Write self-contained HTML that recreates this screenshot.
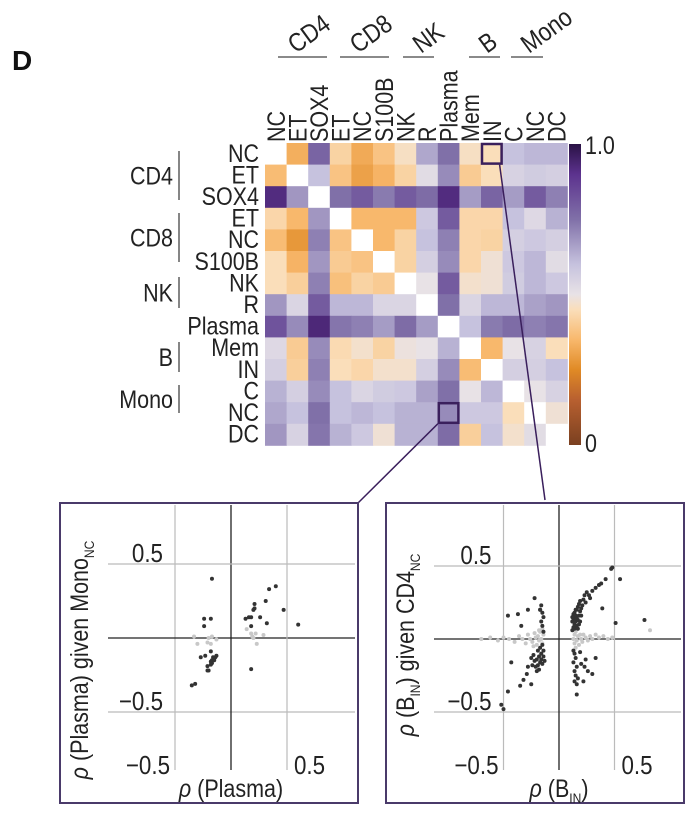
<!DOCTYPE html>
<html><head><meta charset="utf-8"><style>
body{margin:0;background:#fff;}
svg{display:block;font-family:"Liberation Sans",Arial,sans-serif;}
</style></head><body>
<svg id="fig" width="696" height="819" viewBox="0 0 696 819" xmlns="http://www.w3.org/2000/svg">
<text x="12" y="70" font-size="28" font-weight="bold" fill="#111">D</text>
<g id="heat"></g>
<g id="left"></g>
<g id="right"></g>
</svg>
<script>
const rowLabels=["NC","ET","SOX4","ET","NC","S100B","NK","R","Plasma","Mem","IN","C","NC","DC"];
const groups=[["CD4",0,2],["CD8",3,5],["NK",6,7],["B",9,10],["Mono",11,13]];
const heatValues=[
[null,0.33,0.78,0.42,0.32,0.38,0.46,0.65,0.75,0.46,0.45,0.60,0.62,0.62],
[0.36,null,0.60,0.38,0.30,0.34,0.42,0.52,0.70,0.40,0.45,0.55,0.57,0.56],
[0.92,0.68,null,0.75,0.80,0.73,0.80,0.76,0.92,0.67,0.78,0.67,0.80,0.72],
[0.43,0.35,0.68,null,0.35,0.35,0.35,0.58,0.80,0.43,0.43,0.60,0.53,0.63],
[0.36,0.28,0.72,0.38,null,0.35,0.42,0.60,0.72,0.43,0.42,0.56,0.58,0.56],
[0.45,0.34,0.68,0.40,0.38,null,0.42,0.56,0.70,0.43,0.48,0.58,0.62,0.52],
[0.45,0.41,0.72,0.37,0.42,0.40,null,0.50,0.80,0.47,0.48,0.57,0.62,0.58],
[0.68,0.54,0.80,0.62,0.62,0.54,0.54,null,0.75,0.54,0.62,0.62,0.66,0.68],
[0.82,0.70,0.93,0.74,0.72,0.67,0.76,0.67,null,0.60,0.73,0.76,0.72,0.74],
[0.53,0.40,0.70,0.44,0.47,0.42,0.49,0.50,0.63,null,0.35,0.50,0.55,0.45],
[0.56,0.41,0.72,0.45,0.43,0.47,0.47,0.56,0.70,0.36,null,0.56,0.56,0.60],
[0.63,0.56,0.70,0.60,0.54,0.57,0.58,0.66,0.75,0.50,0.62,null,0.50,0.55],
[0.65,0.60,0.75,0.60,0.62,0.60,0.63,0.63,0.70,0.58,0.58,0.45,null,0.48],
[0.68,0.55,0.74,0.63,0.58,0.48,0.63,0.63,0.76,0.41,0.60,0.47,0.52,null]];
const leftDark=[[-0.17,0.40],[-0.24,0.13],[-0.18,0.13],[-0.24,0.08],[-0.27,-0.13],[-0.23,-0.12],[-0.18,-0.09],[-0.17,-0.15],[-0.15,-0.14],[-0.14,-0.13],[-0.13,-0.12],[-0.17,-0.17],[-0.18,-0.18],[-0.21,-0.19],[-0.21,-0.22],[-0.20,-0.22],[-0.35,-0.32],[-0.32,-0.31],[0.18,-0.21],[0.13,0.13],[0.16,0.14],[0.18,0.14],[0.21,0.20],[0.20,0.19],[0.21,0.23],[0.26,0.14],[0.18,0.08],[0.31,0.25],[0.34,0.33],[0.40,0.35],[0.47,0.19],[0.32,0.10],[0.60,0.09],[-0.16,-0.13],[-0.15,-0.15],[-0.18,-0.16]];
const leftLight=[[-0.33,0.01],[-0.30,-0.04],[-0.20,0.00],[-0.17,0.01],[-0.13,-0.01],[-0.18,-0.04],[-0.21,-0.03],[0.14,0.06],[0.18,0.03],[0.19,0.01],[0.22,0.03],[0.23,-0.04],[0.29,0.02],[0.20,0.00]];
const rightDark=[[0.12,0.06],[0.13,0.08],[0.14,0.10],[0.12,0.12],[0.13,0.14],[0.15,0.16],[0.14,0.18],[0.16,0.20],[0.17,0.22],[0.18,0.24],[0.19,0.26],[0.15,0.12],[0.16,0.09],[0.17,0.13],[0.18,0.16],[0.19,0.19],[0.20,0.21],[0.13,0.17],[0.14,0.07],[0.17,0.07],[0.18,0.10],[0.16,0.14],[0.20,0.16],[0.21,0.23],[0.22,0.27],[0.23,0.30],[0.12,0.15],[0.15,0.20],[0.19,0.12],[0.25,0.32],[0.27,0.30],[0.24,0.25],
[0.30,0.33],[0.33,0.35],[0.36,0.37],[0.38,0.38],[0.42,0.41],[0.47,0.48],[0.48,0.49],[0.55,0.41],[0.28,0.28],[0.39,0.21],[0.51,0.11],[0.77,0.13],
[0.13,-0.08],[0.14,-0.10],[0.15,-0.13],[0.13,-0.16],[0.16,-0.19],[0.14,-0.22],[0.15,-0.25],[0.17,-0.27],[0.14,-0.29],[0.16,-0.31],[0.16,-0.38],[0.20,-0.17],[0.23,-0.19],[0.26,-0.22],[0.30,-0.24],[0.33,-0.13],[0.22,-0.29],[0.19,-0.09],[0.24,-0.14],
[-0.15,-0.04],[-0.17,-0.06],[-0.19,-0.08],[-0.16,-0.10],[-0.14,-0.12],[-0.18,-0.12],[-0.20,-0.14],[-0.22,-0.15],[-0.17,-0.16],[-0.15,-0.17],[-0.19,-0.18],[-0.21,-0.19],[-0.14,-0.08],[-0.23,-0.11],[-0.25,-0.13],[-0.16,-0.14],[-0.13,-0.15],[-0.18,-0.21],[-0.20,-0.22],[-0.24,-0.18],[-0.14,0.05],[-0.15,0.09],[-0.16,0.12],[-0.14,0.15],[-0.17,0.20],[-0.16,0.23],[-0.15,0.18],
[-0.22,0.28],[-0.28,0.20],[-0.37,0.17],[-0.46,0.16],[-0.34,0.09],[-0.17,0.20],[-0.43,-0.16],[-0.32,-0.28],[-0.35,-0.32],[-0.46,-0.36],[-0.52,-0.45],[-0.50,-0.48],[-0.25,-0.31],[-0.29,-0.24],[-0.28,-0.19]];
const rightLight=[[-0.70,0.00],[-0.62,0.01],[-0.55,-0.01],[-0.50,0.01],[-0.45,0.00],[-0.40,-0.02],[-0.36,0.02],[-0.33,0.00],[-0.30,-0.03],[-0.28,0.03],[-0.26,0.00],[-0.24,-0.02],[-0.22,0.04],[-0.21,0.01],[-0.20,-0.04],[-0.19,0.02],[-0.18,-0.01],[-0.17,0.05],[-0.16,0.00],[-0.15,-0.03],[-0.14,0.03],[-0.15,0.07],[-0.18,0.06],[-0.23,-0.05],[0.13,0.00],[0.14,0.03],[0.14,-0.03],[0.15,0.05],[0.16,-0.01],[0.17,0.02],[0.18,-0.04],[0.19,0.03],[0.20,0.00],[0.21,-0.02],[0.22,0.03],[0.24,0.01],[0.26,-0.01],[0.28,0.02],[0.30,0.00],[0.33,0.03],[0.36,0.01],[0.40,0.02],[0.44,0.00],[0.48,0.01],[0.15,-0.06],[0.16,0.07],[0.82,0.06]];
const tickVals=[-0.5,0,0.5];

const NS="http://www.w3.org/2000/svg";
function mk(tag,attrs,parent){const e=document.createElementNS(NS,tag);for(const k in attrs)e.setAttribute(k,attrs[k]);parent.appendChild(e);return e;}
const SX=0.86;
const stops=[[0,[122,64,32]],[0.15,[184,96,48]],[0.25,[224,138,37]],[0.35,[248,184,108]],[0.45,[250,222,186]],[0.5,[232,226,230]],[0.6,[198,194,222]],[0.75,[128,112,168]],[0.9,[92,50,142]],[1,[42,18,69]]];
function color(v){for(let i=1;i<stops.length;i++){if(v<=stops[i][0]){const a=stops[i-1],b=stops[i];const t=(v-a[0])/(b[0]-a[0]);const c=a[1].map((x,j)=>Math.round(x+(b[1][j]-x)*t));return `rgb(${c})`;}}return "rgb(42,18,69)";}

const H=document.getElementById('heat');
const X0=265,Y0=143,CS=21.6,n=rowLabels.length;
const cx=i=>X0+i*CS, cy=i=>Y0+i*CS;
heatValues.forEach((row,r)=>row.forEach((v,c)=>{
 const e=mk('rect',{x:cx(c),y:cy(r),width:CS+0.4,height:CS+0.4,fill:v===null?'#ffffff':color(v)},H);
 
 
}));
[[0,10],[12,8]].forEach(([r,c])=>{const e=mk('rect',{x:cx(c)+1,y:cy(r)+1,width:CS-2,height:CS-2,fill:'none',stroke:'#3a1f5c','stroke-width':2.5},H);
 
 });
rowLabels.forEach((l,i)=>{
 const t=mk('text',{transform:`translate(259,${cy(i)+CS/2+8}) scale(${SX},1)`,'text-anchor':'end','font-size':25,fill:'#222'},H);t.textContent=l;
 
 
 const u=mk('text',{transform:`translate(${cx(i)+CS/2+9},142) rotate(-90) scale(${SX},1)`,'font-size':25,fill:'#222'},H);u.textContent=l;
 
 
});
const brackets=[[151,200],[213,262],[277,308],[342,372],[385,413]];
const colBr=[[278,327],[340,389],[403,434],[469,500],[511,543]];
groups.forEach(([g,a,b],k)=>{
 const [y1,y2]=brackets[k],ym=(y1+y2)/2;
 const ln=mk('line',{x1:179,x2:179,y1:y1,y2:y2,stroke:'#444','stroke-width':1.3},H);
 
 
 const t=mk('text',{transform:`translate(173,${ym+9}) scale(${SX},1)`,'text-anchor':'end','font-size':25,fill:'#222'},H);t.textContent=g;
 
 
 const [x1,x2]=colBr[k];
 const l2=mk('line',{x1:x1,x2:x2,y1:57,y2:57,stroke:'#444','stroke-width':1.3},H);
 
 
 const t2=mk('text',{transform:`translate(${x1+18},54) rotate(-36) scale(${SX},1)`,'font-size':26,fill:'#222'},H);t2.textContent=g;
 
 
});
const defs=mk('defs',{},H);const lg=mk('linearGradient',{id:'cb',x1:0,y1:1,x2:0,y2:0},defs);
stops.forEach(s=>mk('stop',{offset:s[0],'stop-color':`rgb(${s[1]})`},lg));
const cb=mk('rect',{x:569,y:144,width:12,height:301,fill:'url(#cb)'},H);


[['1.0',154],['0',452]].forEach(([s,y])=>{const t=mk('text',{transform:`translate(585,${y}) scale(${SX},1)`,'font-size':25,fill:'#222'},H);t.textContent=s;
 
 });
[[cx(8),cy(13),358,503],[cx(10)+CS-3,cy(1),545,500]].forEach(([a,b,c,d])=>{const l=mk('line',{x1:a,y1:b,x2:c,y2:d,stroke:'#3a1f5c','stroke-width':1.5},H);
 
 });

function scatter(id,bx,ox,oy,sx,sy,dark,light,xt,yt){
 const G=document.getElementById(id);
 const box=mk('rect',{x:bx,y:503,width:298,height:300,fill:'#fff',stroke:'#4a3a6a','stroke-width':2},G);
 
 
 const X=v=>ox+v*sx,Y=v=>oy-v*sy;
 tickVals.forEach(v=>{
  const a=mk('line',{x1:X(v),x2:X(v),y1:505,y2:770,stroke:v===0?'#222':'#bbb','stroke-width':v===0?1.3:1.2},G);
  
  
  const b=mk('line',{x1:bx+48,x2:bx+295,y1:Y(v),y2:Y(v),stroke:v===0?'#222':'#bbb','stroke-width':v===0?1.3:1.2},G);
  
  
 });
 [[0.5,'0.5'],[-0.5,'−0.5']].forEach(([v,s])=>{
  const t=mk('text',{transform:`translate(${X(-0.5)-12},${Y(v)-2}) scale(${SX},1)`,'text-anchor':'end','font-size':26,fill:'#222'},G);t.textContent=s;
  
  
  const u=mk('text',{transform:`translate(${v>0?X(v)+7:X(v)-5},774) scale(${SX},1)`,'text-anchor':v>0?'start':'end','font-size':26,fill:'#222'},G);u.textContent=s;
  
  
 });
 light.forEach(p=>{const c=mk('circle',{cx:X(p[0]),cy:Y(p[1]),r:2,fill:'#c8c8c8'},G);
  
  });
 dark.forEach(p=>{const c=mk('circle',{cx:X(p[0]),cy:Y(p[1]),r:2,fill:'#333'},G);
  
  });
 const xtEl=mk('text',{transform:`translate(${ox},797) scale(${SX},1)`,'text-anchor':'middle','font-size':25,fill:'#222'},G);xtEl.innerHTML=xt;
 
 
 const ytEl=mk('text',{transform:`translate(${bx+28},${id==='left'?660:645}) rotate(-90) scale(${SX},1)`,'text-anchor':'middle','font-size':25,fill:'#222'},G);ytEl.innerHTML=yt;
 
 
}
scatter('left',60,231,638,112,148,leftDark,leftLight,
 '<tspan font-style="italic">ρ</tspan> (Plasma)',
 '<tspan font-style="italic">ρ</tspan> (Plasma) given Mono<tspan font-size="14" dy="6">NC</tspan>');
scatter('right',386,559,639,111,146,rightDark,rightLight,
 '<tspan font-style="italic">ρ</tspan> (B<tspan font-size="14" dy="6">IN</tspan><tspan dy="-6">)</tspan>',
 '<tspan font-style="italic">ρ</tspan> (B<tspan font-size="14" dy="6">IN</tspan><tspan dy="-6">) given CD4</tspan><tspan font-size="14" dy="6">NC</tspan>');
</script>
</body></html>
